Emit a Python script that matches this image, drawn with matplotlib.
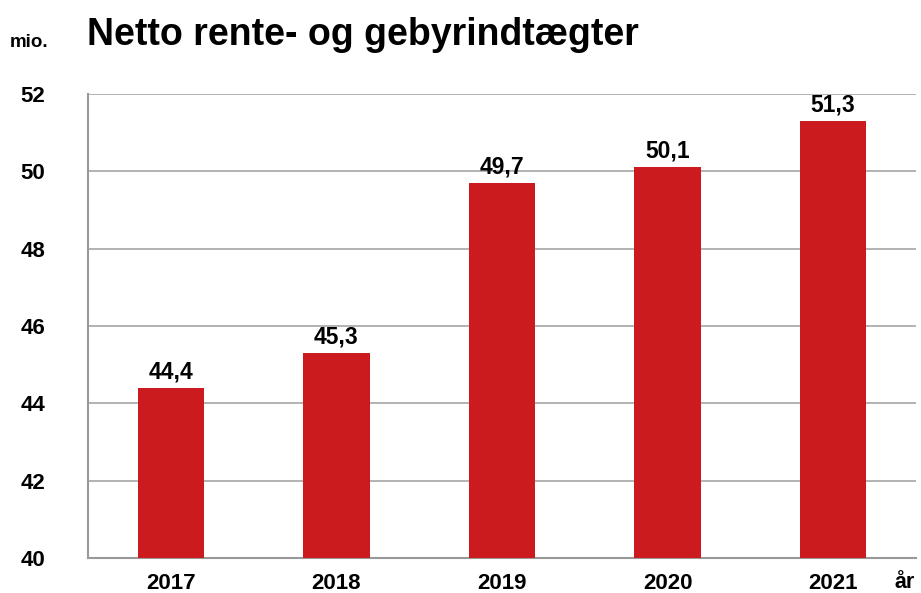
import matplotlib
matplotlib.use("Agg")
import matplotlib.pyplot as plt

years = ["2017", "2018", "2019", "2020", "2021"]
values = [44.4, 45.3, 49.7, 50.1, 51.3]
value_labels = ["44,4", "45,3", "49,7", "50,1", "51,3"]
yticks = [40, 42, 44, 46, 48, 50, 52]

plt.rcParams['font.family'] = ['Liberation Sans', 'DejaVu Sans']
plt.rcParams['font.weight'] = 'bold'

fig = plt.figure(figsize=(9.21, 5.93), dpi=100)
ax = fig.add_axes([88/921, 35/593, 828/921, 464/593])

x = range(len(years))
ax.bar(x, [v - 40 for v in values], bottom=40, width=0.4, color="#CC1B1E", zorder=3)
for i, (v, lab) in enumerate(zip(values, value_labels)):
    ax.annotate(lab, (i, v), xytext=(0, 7), textcoords='offset points',
                ha='center', va='baseline', fontsize=16.5, fontweight='bold')

ax.set_xlim(-0.5, 4.5)
ax.set_ylim(40, 52)
ax.set_yticks(yticks)
ax.set_yticklabels([str(t) for t in yticks], fontsize=16, fontweight='bold')
ax.set_xticks(list(x))
ax.set_xticklabels(years, fontsize=16, fontweight='bold')
ax.tick_params(axis='both', length=0)
ax.tick_params(axis='y', pad=31)
ax.tick_params(axis='x', pad=11)

ax.grid(axis='y', color='#A6A6A6', linewidth=1.2, zorder=0)
for s in ['top', 'right']:
    ax.spines[s].set_visible(False)
for s in ['left', 'bottom']:
    ax.spines[s].set_color('#999999')
    ax.spines[s].set_linewidth(1.5)

fig.text(87/921, 1 - 45/593, "Netto rente- og gebyrindtægter", fontsize=27, fontweight='bold', va='baseline', ha='left')
fig.text(10/921, 1 - 47/593, "mio.", fontsize=13.5, fontweight='bold', va='baseline', ha='left')
fig.text(905/921, 1 - 582/593, "år", fontsize=15.5, fontweight='bold', va='center', ha='center')

fig.savefig("out.png", dpi=100)
